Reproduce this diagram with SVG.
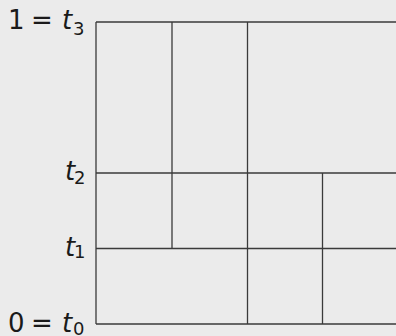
<svg xmlns="http://www.w3.org/2000/svg" width="396" height="336" viewBox="0 0 396 336">
<style>
.bg{fill:#ebebeb}
.ln{stroke:#3a3a3a;stroke-width:1.3;fill:none}
.lb{font-family:"DejaVu Sans","Liberation Sans",sans-serif;font-size:26px;fill:#1a1a1a}
.it{font-style:italic}
.sub{font-size:18px}
</style>
<rect class="bg" x="0" y="0" width="396" height="336"/>
<g id="connectors">
<line class="ln" x1="96" y1="22" x2="396" y2="22"/>
<line class="ln" x1="96" y1="173" x2="396" y2="173"/>
<line class="ln" x1="96" y1="248.5" x2="396" y2="248.5"/>
<line class="ln" x1="96" y1="324" x2="396" y2="324"/>
<line class="ln" x1="96" y1="22" x2="96" y2="324"/>
<line class="ln" x1="172" y1="22" x2="172" y2="248.5"/>
<line class="ln" x1="247.5" y1="22" x2="247.5" y2="324"/>
<line class="ln" x1="322.5" y1="173" x2="322.5" y2="324"/>
</g>
<g id="label-t3">
<text class="lb" x="8" y="29">1</text>
<text class="lb" x="31" y="29">=</text>
<text class="lb it" x="62" y="29">t</text>
<text class="lb sub" x="73" y="34.5">3</text>
</g>
<g id="label-t2">
<text class="lb it" x="65" y="180">t</text>
<text class="lb sub" x="74" y="183.5">2</text>
</g>
<g id="label-t1">
<text class="lb it" x="65" y="256">t</text>
<text class="lb sub" x="74" y="258">1</text>
</g>
<g id="label-t0">
<text class="lb" x="8" y="332">0</text>
<text class="lb" x="31" y="332">=</text>
<text class="lb it" x="62" y="332">t</text>
<text class="lb sub" x="73" y="335">0</text>
</g>
</svg>
